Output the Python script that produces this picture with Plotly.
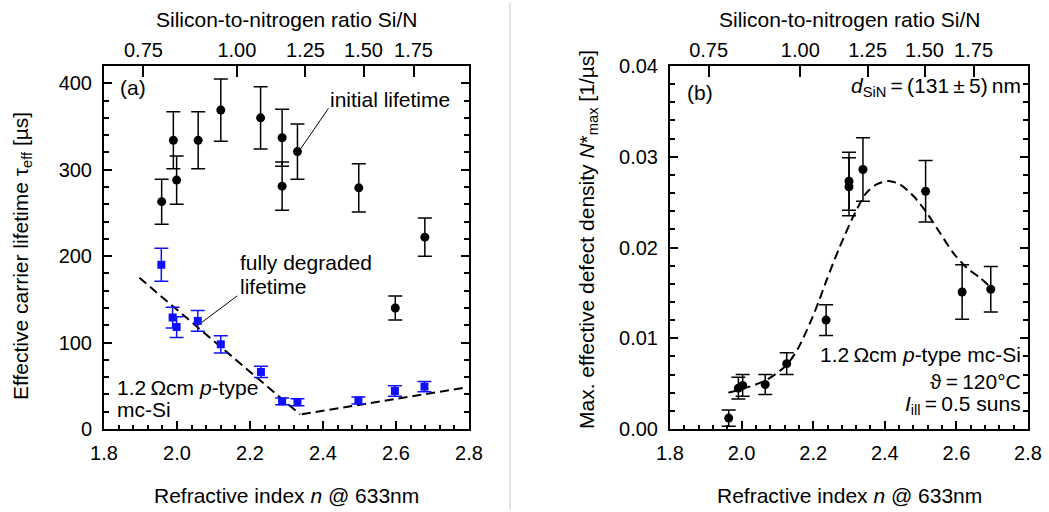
import plotly.graph_objects as go

FONT = "Liberation Sans, Arial, Helvetica, sans-serif"
W, H = 1049, 512
BLUE = "#1010ff"
TXT = 21
TS = "\u2009"  # thin space

# ---------------- Panel (a): effective carrier lifetime ----------------
n_init = [1.958, 1.990, 1.999, 2.058, 2.120, 2.229, 2.288, 2.288, 2.330, 2.498, 2.598, 2.679]
tau_init = [263, 334, 288, 334, 369, 360, 337, 281, 321, 279, 140, 222]
tau_init_err = [26, 33, 28, 33, 36, 36, 33, 28, 32, 28, 14, 22]

n_deg = [1.957, 1.988, 1.999, 2.057, 2.120, 2.230, 2.288, 2.330, 2.497, 2.597, 2.678]
tau_deg = [190, 129, 118, 125, 98, 66, 32, 31, 33, 44, 49]
tau_deg_err = [19, 12, 12, 12, 10, 6.5, 4, 4, 4, 6, 6]

fitA_n = [1.897, 2.337]
fitA_tau = [175, 17]
fitB_n = [2.342, 2.790]
fitB_tau = [17, 48]

# ---------------- Panel (b): max. effective defect density ----------------
n_b = [1.964, 1.991, 2.003, 2.066, 2.126, 2.236, 2.300, 2.300, 2.339, 2.514, 2.616, 2.696]
N_b = [0.0012, 0.0045, 0.0048, 0.0049, 0.0072, 0.0120, 0.0273, 0.0267, 0.0286, 0.0262, 0.0151, 0.0154]
N_b_err = [0.0009, 0.0012, 0.0012, 0.0011, 0.0012, 0.0017, 0.0032, 0.0032, 0.0035, 0.0034, 0.0030, 0.0025]

fit_b_n = [1.963, 2.000, 2.070, 2.126, 2.158, 2.191, 2.214, 2.238, 2.275, 2.317, 2.349,
           2.377, 2.410, 2.442, 2.480, 2.517, 2.554, 2.591, 2.629, 2.666, 2.703]
fit_b_N = [0.00401, 0.00438, 0.00541, 0.00707, 0.00891, 0.01168, 0.01389, 0.01646, 0.02015,
           0.02383, 0.02604, 0.02696, 0.02733, 0.02696, 0.02567, 0.02383, 0.02162, 0.01941,
           0.01776, 0.01665, 0.01536]

# ---------------- Top axis: Si/N ratio ----------------
ratio_labels = ["0.75", "1.00", "1.25", "1.50", "1.75"]
ratio_at_n = [1.908, 2.164, 2.352, 2.511, 2.648]

fig = go.Figure()

dash = "9px,5px"
fig.add_trace(go.Scatter(x=fitA_n, y=fitA_tau, mode="lines", xaxis="x", yaxis="y",
                         line=dict(color="black", width=2, dash=dash), showlegend=False, hoverinfo="skip"))
fig.add_trace(go.Scatter(x=fitB_n, y=fitB_tau, mode="lines", xaxis="x", yaxis="y",
                         line=dict(color="black", width=2, dash=dash), showlegend=False, hoverinfo="skip"))
fig.add_trace(go.Scatter(x=n_init, y=tau_init, mode="markers", xaxis="x", yaxis="y",
                         marker=dict(color="black", size=9, symbol="circle"),
                         error_y=dict(type="data", array=tau_init_err, color="black", thickness=1.5, width=7),
                         name="initial lifetime", showlegend=False))
fig.add_trace(go.Scatter(x=n_deg, y=tau_deg, mode="markers", xaxis="x", yaxis="y",
                         marker=dict(color=BLUE, size=8, symbol="square"),
                         error_y=dict(type="data", array=tau_deg_err, color=BLUE, thickness=1.5, width=7),
                         name="fully degraded lifetime", showlegend=False))

fig.add_trace(go.Scatter(x=fit_b_n, y=fit_b_N, mode="lines", xaxis="x2", yaxis="y2",
                         line=dict(color="black", width=2, dash=dash, shape="spline", smoothing=0.8),
                         showlegend=False, hoverinfo="skip"))
fig.add_trace(go.Scatter(x=n_b, y=N_b, mode="markers", xaxis="x2", yaxis="y2",
                         marker=dict(color="black", size=9, symbol="circle"),
                         error_y=dict(type="data", array=N_b_err, color="black", thickness=1.5, width=7),
                         name="N*max", showlegend=False))

ydom = [1 - 429 / H, 1 - 66 / H]
xdom_a = [104 / W, 469 / W]
xdom_b = [670 / W, 1028 / W]

tickfont = dict(family=FONT, size=20, color="black")
common_x = dict(range=[1.8, 2.8], tick0=1.8, dtick=0.2, tickformat=".1f", ticks="inside", ticklen=8,
                tickwidth=1.5, tickcolor="black", showline=True, linewidth=2, linecolor="black",
                mirror=True, showgrid=False, zeroline=False, automargin=False,
                minor=dict(dtick=0.04, ticks="inside", ticklen=4, tickwidth=1.5, tickcolor="black", showgrid=False),
                tickfont=tickfont, ticklabelstandoff=5)
common_top = dict(side="top", range=[1.8, 2.8], tickmode="array", tickvals=ratio_at_n, ticktext=ratio_labels,
                  ticks="inside", ticklen=11, tickwidth=1.5, tickcolor="black", showline=False,
                  showgrid=False, zeroline=False, automargin=False, tickfont=tickfont,
                  ticklabelstandoff=4)
common_y = dict(ticks="inside", ticklen=8, tickwidth=1.5, tickcolor="black", showline=True, linewidth=2,
                linecolor="black", mirror="ticks", showgrid=False, zeroline=False, automargin=False,
                tickfont=tickfont, ticklabelstandoff=6)

fig.update_layout(
    template="none",
    width=W, height=H, margin=dict(l=0, r=0, t=0, b=0, pad=0, autoexpand=False),
    paper_bgcolor="white", plot_bgcolor="white",
    font=dict(family=FONT, size=TXT, color="black"),
    showlegend=False,
    xaxis=dict(domain=xdom_a, anchor="y", **common_x),
    xaxis3=dict(overlaying="x", anchor="y", **common_top),
    yaxis=dict(domain=ydom, anchor="x", range=[0, 420], tick0=0, dtick=100,
               minor=dict(dtick=20, ticks="inside", ticklen=5, tickwidth=1.5, tickcolor="black", showgrid=False),
               **common_y),
    xaxis2=dict(domain=xdom_b, anchor="y2", **common_x),
    xaxis4=dict(overlaying="x2", anchor="y2", **common_top),
    yaxis2=dict(domain=ydom, anchor="x2", range=[0, 0.04], tick0=0, dtick=0.01, tickformat=".2f",
                minor=dict(dtick=0.002, ticks="inside", ticklen=5, tickwidth=1.5, tickcolor="black", showgrid=False),
                **common_y),
)

# dummy traces so the top axes render
fig.add_trace(go.Scatter(x=[None], y=[None], xaxis="x3", yaxis="y", showlegend=False, hoverinfo="skip"))
fig.add_trace(go.Scatter(x=[None], y=[None], xaxis="x4", yaxis="y2", showlegend=False, hoverinfo="skip"))

def ann(text, x, y, xref="paper", yref="paper", xanchor="center", yanchor="middle", angle=0, align="left"):
    fig.add_annotation(text=text, x=x, y=y, xref=xref, yref=yref, xanchor=xanchor, yanchor=yanchor,
                       showarrow=False, textangle=angle, align=align,
                       font=dict(family=FONT, size=TXT, color="black"))

# axis titles
ann("Refractive index <i>n</i> @ 633nm", (104 + 469) / 2 / W, 1 - 495 / H)
ann("Refractive index <i>n</i> @ 633nm", (670 + 1028) / 2 / W, 1 - 495 / H)
ann("Silicon-to-nitrogen ratio Si/N", (104 + 469) / 2 / W, 1 - 19 / H)
ann("Silicon-to-nitrogen ratio Si/N", (670 + 1028) / 2 / W, 1 - 19 / H)
ann("Effective carrier lifetime τ<sub>eff</sub> [µs]", 22 / W, 1 - 256 / H, angle=-90)
ann("Max. effective defect density <i>N</i>*<sub>max</sub> [1/µs]", 588 / W, 1 - 240 / H, angle=-90)

# panel (a) texts
ann("(a)", 1.838, 395, "x", "y", xanchor="left")
ann("initial lifetime", 2.415, 381, "x", "y", xanchor="left")
ann("fully degraded", 2.168, 193, "x", "y", xanchor="left")
ann("lifetime", 2.168, 165, "x", "y", xanchor="left")
ann("1.2" + TS + "Ωcm <i>p</i>-type", 1.83, 48, "x", "y", xanchor="left")
ann("mc-Si", 1.83, 23, "x", "y", xanchor="left")

# panel (b) texts
ann("(b)", 1.842, 0.0371, "x2", "y2", xanchor="left")
ann("<i>d</i><sub>SiN</sub>" + TS + "=" + TS + "(131" + TS + "±" + TS + "5)" + TS + "nm",
    2.786, 0.0377, "x2", "y2", xanchor="right")
ann("1.2" + TS + "Ωcm <i>p</i>-type mc-Si", 2.786, 0.00818, "x2", "y2", xanchor="right")
ann("ϑ" + TS + "=" + TS + "120°C", 2.786, 0.00519, "x2", "y2", xanchor="right")
ann("<i>I</i><sub>ill</sub>" + TS + "=" + TS + "0.5 suns", 2.786, 0.00265, "x2", "y2", xanchor="right")

# leader lines
fig.add_shape(type="line", xref="x", yref="y", x0=2.415, y0=371, x1=2.336, y1=322.5,
              line=dict(color="black", width=1))
fig.add_shape(type="line", xref="x", yref="y", x0=2.165, y0=154, x1=2.068, y1=123.4,
              line=dict(color="black", width=1))

# divider between panels
fig.add_shape(type="line", xref="paper", yref="paper", x0=510 / W, x1=510 / W, y0=1 - 3 / H, y1=1 - 510 / H,
              line=dict(color="#c8c8c8", width=1))

fig.write_html("out.html")
